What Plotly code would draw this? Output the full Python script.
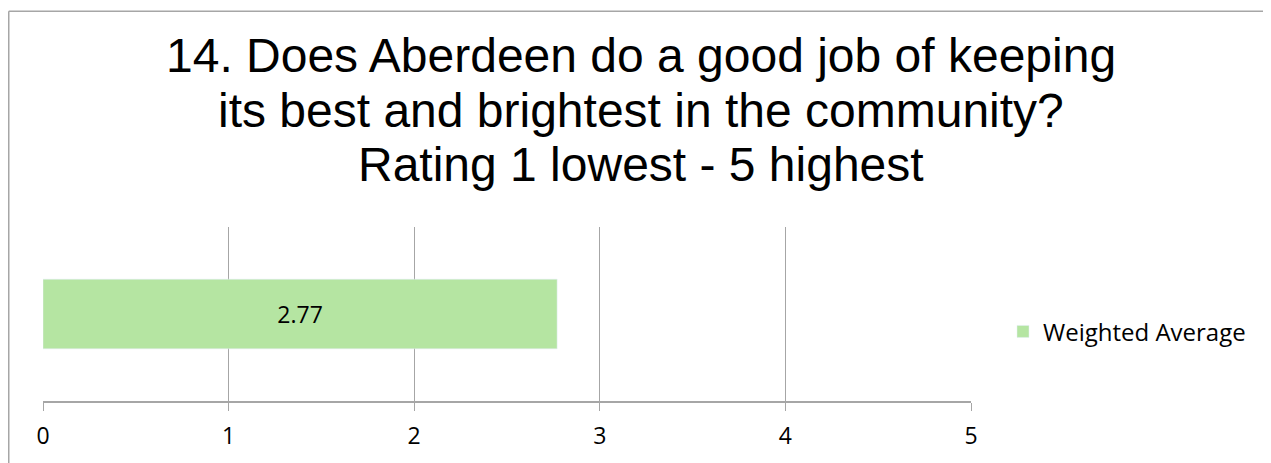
import plotly.graph_objects as go

# data
question = ["Q14"]
weighted_avg = [2.77]
series_name = "Weighted Average"
tick_vals = [0, 1, 2, 3, 4, 5]

title_lines = ["14. Does Aberdeen do a good job of keeping",
               "its best and brightest in the community?",
               "Rating 1 lowest - 5 highest"]

# page body adds 8px offset; plot area spans fig px 35..963 x 219..395
FW, FH = 1263, 455
L, T, W, H = 35, 219, 928, 176

def px_x(x):
    return (x - L) / W

def px_y(y):
    return (T + H - y) / H

fig = go.Figure()
fig.add_trace(go.Bar(
    x=weighted_avg, y=question, orientation="h", name=series_name,
    marker_color="#b5e5a2", width=0.4,
    text=[f"{v:.2f}" for v in weighted_avg], textposition="inside",
    insidetextanchor="middle",
    textfont=dict(family="Open Sans", size=23, color="#000000"),
    showlegend=True,
))

# title lines (reference spacing is tighter than plotly's title line height)
for i, line in enumerate(title_lines):
    fig.add_annotation(text=line, xref="paper", yref="paper",
                       x=px_x(633), y=px_y(46 + 55 * i),
                       xanchor="center", yanchor="middle", showarrow=False,
                       font=dict(family="Liberation Sans", size=48, color="#000000"))

# chart frame: only top and left edges fall inside the window
border = dict(color="#a6a6a6", width=1.5)
fig.update_layout(
    width=FW, height=FH,
    margin=dict(l=L, r=FW - L - W, t=T, b=FH - T - H),
    paper_bgcolor="white", plot_bgcolor="white",
    showlegend=True,
    legend=dict(x=px_x(995), xanchor="left", y=px_y(325), yanchor="middle",
                font=dict(family="Open Sans", size=24, color="#000000"),
                bgcolor="rgba(0,0,0,0)"),
    shapes=[
        dict(type="line", xref="paper", yref="paper",
             x0=px_x(0.75), x1=px_x(FW + 50), y0=px_y(0.75), y1=px_y(0.75),
             line=border, layer="below"),
        dict(type="line", xref="paper", yref="paper",
             x0=px_x(0.75), x1=px_x(0.75), y0=px_y(0.75), y1=px_y(FH + 50),
             line=border, layer="below"),
    ],
)
fig.update_xaxes(range=[0, 5], tickvals=tick_vals, showgrid=True,
                 gridcolor="#a6a6a6", gridwidth=1, zeroline=False,
                 showline=True, linecolor="#a6a6a6", linewidth=1.5,
                 ticks="outside", ticklen=8, tickcolor="#a6a6a6",
                 ticklabelstandoff=6,
                 tickfont=dict(family="Open Sans", size=23, color="#000000"))
fig.update_yaxes(showticklabels=False, showgrid=False, zeroline=False,
                 showline=False)

fig.write_html("out.html")
